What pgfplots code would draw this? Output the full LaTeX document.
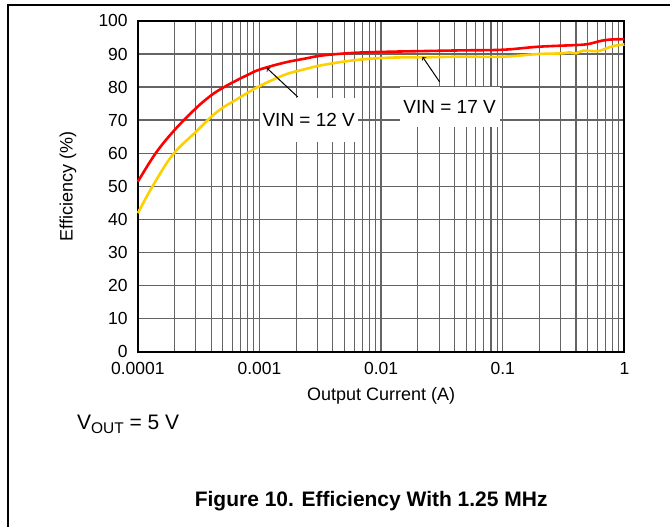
\documentclass[border=0pt]{standalone}
\usepackage{pgfplots}
\pgfplotsset{compat=1.18}
\usepackage{fontspec}
\setmainfont{Liberation Sans}
\definecolor{vred}{RGB}{255,0,0}
\definecolor{vyel}{RGB}{255,208,0}
\definecolor{gridgray}{RGB}{100,100,100}

% efficiency vs output current, VOUT = 5 V, 1.25 MHz
\pgfplotstableread{
I      eff
1e-4   51.4
1.4e-4 60.0
2e-4   67.0
3e-4   73.6
4e-4   77.5
5e-4   79.8
6.3e-4 81.8
8e-4   83.7
1e-3   85.3
1.6e-3 87.4
2.35e-3 88.6
3.33e-3 89.6
6.25e-3 90.4
1.17e-2 90.7
2.2e-2 90.9
4.4e-2 91.1
0.1    91.3
0.194  92.2
0.388  92.7
0.5    93.0
0.644  94.0
0.778  94.4
1      94.5
}\vinTwelve

\pgfplotstableread{
I      eff
1e-4   41.9
1.32e-4 50.0
1.93e-4 59.5
3e-4   66.5
4e-4   71.0
5e-4   73.8
6.3e-4 76.0
8e-4   78.3
1e-3   80.3
1.6e-3 83.7
2.35e-3 85.4
3.33e-3 86.7
6.25e-3 88.2
1.17e-2 88.9
2.2e-2 89.0
4.4e-2 89.2
0.1    89.2
0.194  90.0
0.302  90.2
0.353  90.5
0.401  90.2
0.455  91.0
0.604  90.9
0.708  91.7
0.828  92.5
1      92.9
}\vinSeventeen

\begin{document}
\begin{tikzpicture}
\path (0pt,0pt) rectangle (671pt,527pt);
\draw[line width=1.2pt] (8pt,0pt) -- (8pt,522pt) -- (671pt,522pt);
\begin{axis}[
    at={(138pt,175pt)}, anchor=south west,
    scale only axis, width=487pt, height=331pt,
    xmode=log, xmin=1e-4, xmax=1, ymin=0, ymax=100,
    xtick={1e-4,1e-3,1e-2,1e-1,1},
    xticklabels={0.0001,0.001,0.01,0.1,1},
    minor xtick={2e-4,3e-4,4e-4,5e-4,6e-4,7e-4,8e-4,9e-4,
                 2e-3,3e-3,4e-3,5e-3,6e-3,7e-3,8e-3,9e-3,
                 2e-2,3e-2,4e-2,5e-2,6e-2,7e-2,8e-2,9e-2,
                 0.2,0.3,0.4,0.5,0.6,0.7,0.8,0.9},
    ytick={0,10,...,100},
    grid=both,
    major grid style={gridgray, line width=1.4pt},
    minor grid style={gridgray, line width=1.1pt},
    major tick length=0pt, minor tick length=0pt,
    axis line style={line width=2pt},
    /pgf/number format/assume math mode=true,
    tick label style={font=\fontsize{17.5}{20}\selectfont, inner sep=0pt},
    xticklabel style={anchor=center, yshift=-17pt},
    yticklabel style={anchor=east, xshift=-10pt},
    xlabel={Output Current (A)},
    ylabel={Efficiency (\%)},
    label style={font=\fontsize{18}{21}\selectfont},
    xlabel style={at={(axis description cs:0.5,-0.135)}, anchor=center},
    ylabel style={at={(axis description cs:-0.1437,0.5)}, anchor=center},
    clip=false,
]
\addplot[vred, line width=2.6pt, smooth, tension=0.6] table[x=I, y=eff] {\vinTwelve};
\addplot[vyel, line width=2.6pt, smooth, tension=0.6] table[x=I, y=eff] {\vinSeventeen};
\end{axis}
\node[fill=white, minimum width=98pt, minimum height=44pt, inner sep=0pt,
      font=\fontsize{19}{22}\selectfont] at (309pt,407pt) {VIN = 12 V};
\node[fill=white, minimum width=100pt, minimum height=40pt, inner sep=0pt,
      font=\fontsize{19}{22}\selectfont] at (450pt,420pt) {VIN = 17 V};
\draw[->, line width=1pt] (298pt,430pt) -- (267pt,459pt);
\draw[->, line width=1pt] (440pt,445pt) -- (423pt,470pt);
\node[anchor=base west, inner sep=0pt, font=\fontsize{21}{24}\selectfont]
    at (77pt,97pt) {V\raisebox{-0.2em}{\fontsize{15.5}{16}\selectfont OUT} = 5 V};
\node[anchor=base, inner sep=0pt, font=\bfseries\fontsize{21}{24}\selectfont]
    at (371.5pt,20.3pt) {Figure 10. Efficiency With 1.25 MHz};
\end{tikzpicture}
\end{document}
